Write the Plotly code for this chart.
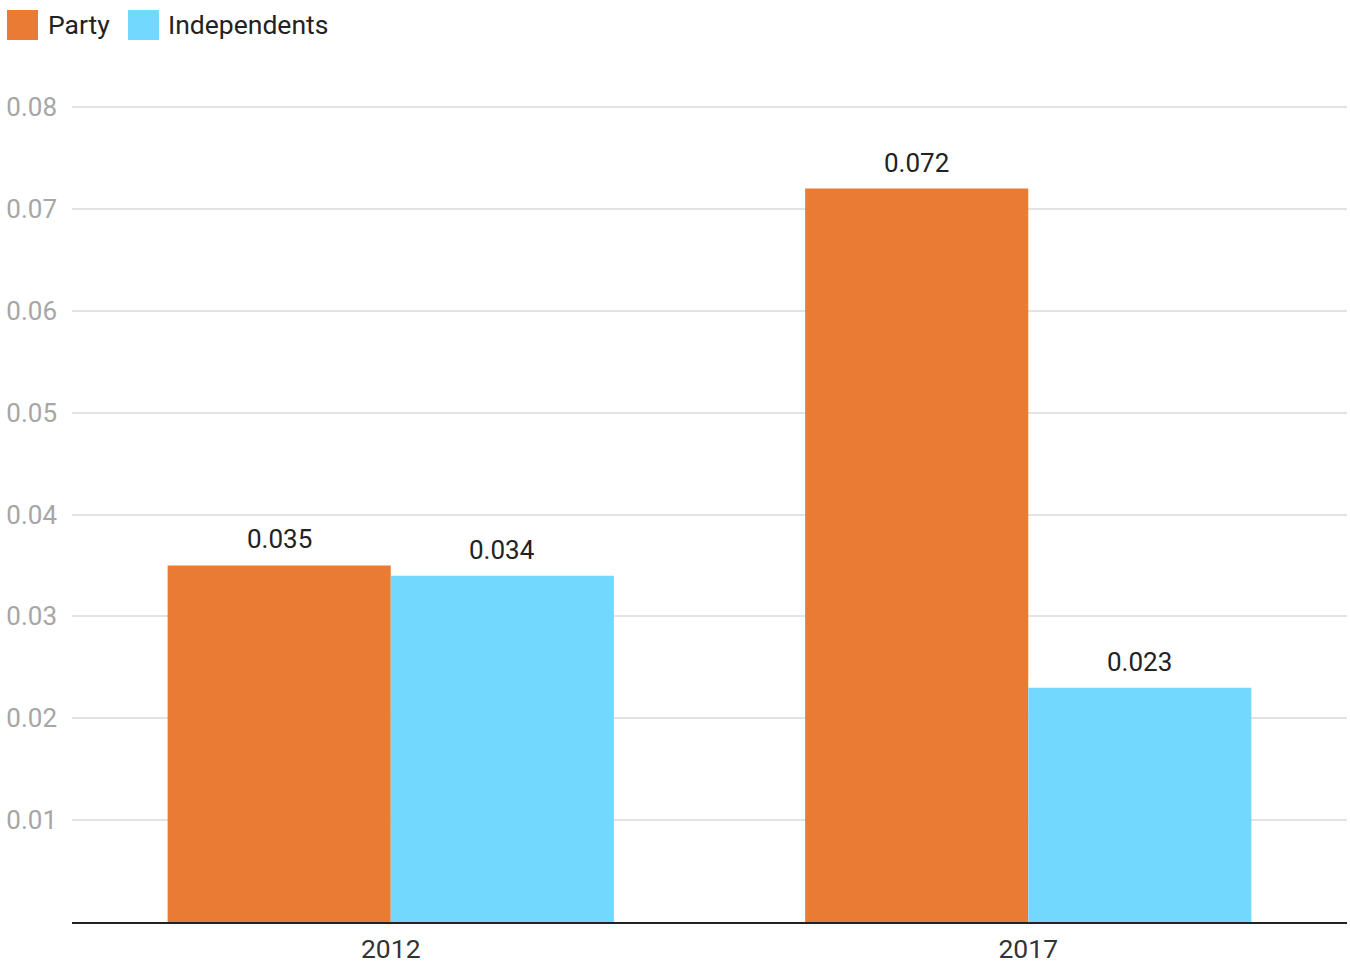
import plotly.graph_objects as go

categories = ["2012", "2017"]
party = [0.035, 0.072]
independents = [0.034, 0.023]
tick_vals = [0.01, 0.02, 0.03, 0.04, 0.05, 0.06, 0.07, 0.08]
tick_text = ["0.01", "0.02", "0.03", "0.04", "0.05", "0.06", "0.07", "0.08"]

ORANGE = "#EA7B34"
BLUE = "#72D8FE"
FONT = "Roboto"

fig = go.Figure()
fig.add_trace(go.Bar(name="Party", x=categories, y=party, marker_color=ORANGE,
                     marker_line_width=0, showlegend=False))
fig.add_trace(go.Bar(name="Independents", x=categories, y=independents, marker_color=BLUE,
                     marker_line_width=0, showlegend=False))

W, H = 1350, 963
ml, mr, mt, mb = 72, 3, 100, 41
plot_w = W - ml - mr
cat_w = plot_w / len(categories)
bargap = 0.3
bar_w = cat_w * (1 - bargap) / 2

annotations = []
for series, shift in ((party, -bar_w / 2), (independents, bar_w / 2)):
    for i, v in enumerate(series):
        annotations.append(dict(x=i, y=v, xref="x", yref="y", text=f"{v:.3f}",
                                showarrow=False, xshift=shift, yshift=9,
                                yanchor="bottom", xanchor="center",
                                font=dict(family=FONT, size=26, color="#222222")))

# legend drawn manually
legend_items = [("Party", ORANGE, 7, 46), ("Independents", BLUE, 128, 166)]
shapes = []
plot_h = H - mt - mb
for name, col, sx, tx in legend_items:
    shapes.append(dict(type="rect", xref="paper", yref="paper",
                       x0=(sx - ml) / plot_w, x1=(sx + 31 - ml) / plot_w,
                       y0=1 + (mt - 40) / plot_h, y1=1 + (mt - 10) / plot_h,
                       fillcolor=col, line_width=0, layer="above"))
    annotations.append(dict(x=(tx - ml) / plot_w, y=1 + (mt - 25) / plot_h,
                            xref="paper", yref="paper", text=name, showarrow=False,
                            xanchor="left", yanchor="middle",
                            font=dict(family=FONT, size=26.5, color="#222222")))

ymax = plot_h / ((922 - 107) / 0.08)

fig.update_layout(
    width=W, height=H,
    margin=dict(l=ml, r=mr, t=mt, b=mb, autoexpand=False),
    barmode="group", bargap=bargap, bargroupgap=0,
    plot_bgcolor="white", paper_bgcolor="white",
    font=dict(family=FONT, size=26),
    annotations=annotations, shapes=shapes,
    xaxis=dict(type="category", range=[-0.5, len(categories) - 0.5],
               showline=True, linecolor="#222222", linewidth=2,
               showgrid=False, ticks="", ticklabelstandoff=2,
               tickfont=dict(family=FONT, size=26.5, color="#333333")),
    yaxis=dict(range=[0, ymax], tickvals=tick_vals, ticktext=tick_text,
               showgrid=True, gridcolor="#e3e3e3", gridwidth=2, zeroline=False,
               ticks="", ticklabelstandoff=14,
               tickfont=dict(family=FONT, size=26, color="#a6a6a6")),
)

fig.write_html("out.html", config={"displayModeBar": False},
               post_script="document.body.style.margin='0';document.body.style.padding='0';")
